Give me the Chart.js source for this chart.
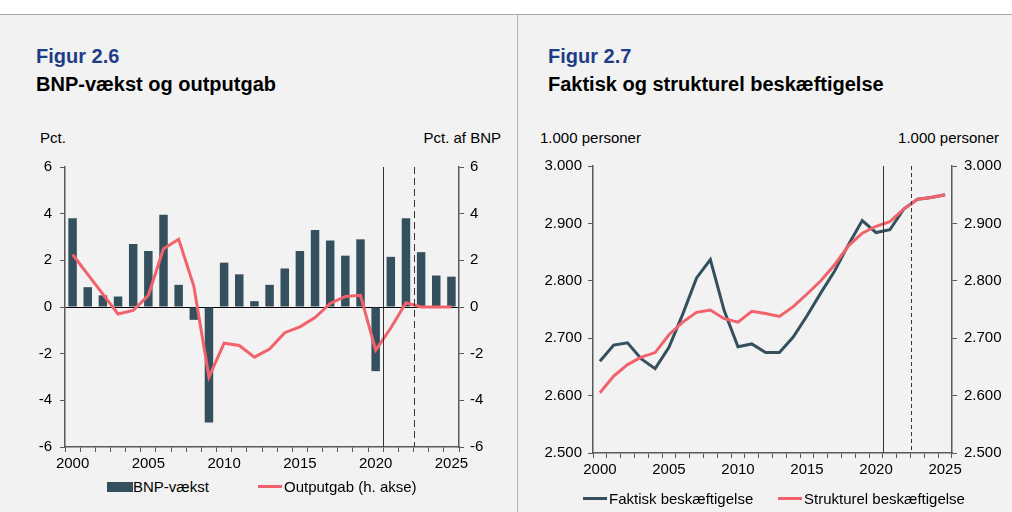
<!DOCTYPE html>
<html>
<head>
<meta charset="utf-8">
<script src="https://cdn.jsdelivr.net/npm/chart.js@4/dist/chart.umd.min.js"></script>
<style>
  body { margin: 0; width: 1012px; height: 512px; background: #f2f2f2; position: relative; overflow: hidden;
         font-family: "Liberation Sans", Arial, sans-serif; }
  .top { position: absolute; left: 0; top: 0; width: 1012px; height: 14px; background: #fff; border-bottom: 1px solid #a6a6a6; }
  .divider { position: absolute; left: 517px; top: 15px; width: 1px; height: 497px; background: #b3b3b3; }
  .txt { position: absolute; white-space: nowrap; color: #000; }
  .fig { font-weight: bold; font-size: 20px; color: #1f3c88; }
  .ttl { font-weight: bold; font-size: 20px; }
  .unit { font-size: 15px; }
  .leg { position: absolute; font-size: 15px; white-space: nowrap; display: flex; align-items: center; }
  .box { display: inline-block; width: 26px; height: 10px; background: #34505f; }
  .ln { display: inline-block; width: 24px; height: 3px; margin-right: 2px; }
  canvas { position: absolute; }
</style>
</head>
<body>
<div class="top"></div>
<div class="divider"></div>

<div class="txt fig" style="left:36px; top:45px;">Figur 2.6</div>
<div class="txt ttl" style="left:36px; top:73px;">BNP-vækst og outputgab</div>
<div class="txt unit" style="left:40px; top:129px;">Pct.</div>
<div class="txt unit" style="right:511px; top:129px;">Pct. af BNP</div>

<div class="txt fig" style="left:548px; top:45px;">Figur 2.7</div>
<div class="txt ttl" style="left:548px; top:73px;">Faktisk og strukturel beskæftigelse</div>
<div class="txt unit" style="left:540px; top:129px;">1.000 personer</div>
<div class="txt unit" style="right:13px; top:129px;">1.000 personer</div>

<canvas id="c1" width="517" height="320" style="left:0; top:150px;"></canvas>
<canvas id="c2" width="495" height="330" style="left:517px; top:150px;"></canvas>

<div class="leg" style="left:107px; top:478px;"><span class="box"></span>BNP-vækst</div>
<div class="leg" style="left:258px; top:478px;"><span class="ln" style="background:#f2626b"></span>Outputgab (h. akse)</div>
<div class="leg" style="left:583px; top:490px;"><span class="ln" style="background:#34505f"></span>Faktisk beskæftigelse</div>
<div class="leg" style="left:778px; top:490px;"><span class="ln" style="background:#f2626b"></span>Strukturel beskæftigelse</div>

<script>
// data
var years = ['2000','2001','2002','2003','2004','2005','2006','2007','2008','2009','2010','2011','2012',
             '2013','2014','2015','2016','2017','2018','2019','2020','2021','2022','2023','2024','2025'];
var bnpVaekst = [3.8, 0.85, 0.5, 0.45, 2.7, 2.4, 3.95, 0.95, -0.55, -4.95, 1.9, 1.4, 0.25,
                 0.95, 1.65, 2.4, 3.3, 2.85, 2.2, 2.9, -2.75, 2.15, 3.8, 2.35, 1.35, 1.3];
var outputgab = [2.25, 1.4, 0.55, -0.3, -0.15, 0.5, 2.5, 2.9, 0.9, -3.0, -1.55, -1.65, -2.15,
                 -1.8, -1.1, -0.85, -0.45, 0.15, 0.45, 0.5, -1.85, -0.9, 0.18, 0.0, 0.0, 0.0];
var faktisk = [2660, 2688, 2692, 2664, 2647, 2684, 2742, 2805, 2837, 2748, 2685, 2690, 2675,
               2675, 2702, 2739, 2779, 2817, 2863, 2905, 2884, 2889, 2925, 2942, 2945, 2950];
var strukturel = [2605, 2634, 2654, 2667, 2675, 2706, 2728, 2745, 2749, 2734, 2728, 2747, 2743,
                  2738, 2755, 2777, 2800, 2828, 2861, 2883, 2895, 2903, 2925, 2942, 2945, 2950];
// last historical year (solid line) and start of projection (dashed line)
var lastActual = '2020';
var lastKnown = '2022';

var dark = '#34505f';
var red = '#f2626b';
var axisCol = '#595959';

Chart.defaults.font = { family: '"Liberation Sans", Arial, sans-serif', size: 15 };
Chart.defaults.color = '#000';

// vertical marker lines between two categories
var markerLines = {
  id: 'markerLines',
  afterDatasetsDraw: function(chart, args, opts) {
    var ctx = chart.ctx, area = chart.chartArea, xs = chart.scales.x;
    ctx.save();
    ctx.strokeStyle = '#333';
    ctx.lineWidth = 1;
    [[lastActual, []], [lastKnown, opts.dash]].forEach(function(m) {
      var x = Math.round(xs.getPixelForValue(years.indexOf(m[0]) + 0.5)) + 0.5;
      ctx.setLineDash(m[1]);
      ctx.beginPath();
      ctx.moveTo(x, area.top);
      ctx.lineTo(x, area.bottom);
      ctx.stroke();
    });
    ctx.restore();
  }
};

function xAxis(pad, h) {
  return {
    offset: true,
    afterFit: function(s) { s.height = h; },
    grid: { offset: true, drawOnChartArea: false, tickLength: 5, color: axisCol },
    border: { color: axisCol, width: 1.5 },
    ticks: { autoSkip: false, maxRotation: 0, padding: pad,
      callback: function(v, i) { return years[i] % 5 === 0 ? years[i] : ''; } }
  };
}

function yAxis(pos, min, max, step, w, pad, fmt) {
  return {
    position: pos, min: min, max: max,
    afterFit: function(s) { s.width = w; },
    grid: { drawOnChartArea: false, tickLength: 5, color: axisCol },
    border: { color: axisCol, width: 1.5 },
    ticks: { stepSize: step, padding: pad, callback: fmt }
  };
}

// Figur 2.6
var yLeft = yAxis('left', -6, 6, 2, 65, 8);
yLeft.grid = { drawOnChartArea: true, tickLength: 5, tickColor: axisCol,
  color: function(c) { return c.tick && c.tick.value === 0 ? '#000' : 'rgba(0,0,0,0)'; } };

new Chart(document.getElementById('c1'), {
  type: 'bar',
  data: {
    labels: years,
    datasets: [
      { label: 'BNP-vækst', data: bnpVaekst, backgroundColor: dark, yAxisID: 'y',
        categoryPercentage: 1, barPercentage: 0.56, order: 2 },
      { type: 'line', label: 'Outputgab (h. akse)', data: outputgab, borderColor: red, borderWidth: 3,
        pointRadius: 0, tension: 0, yAxisID: 'y1', order: 1 }
    ]
  },
  options: {
    responsive: false, animation: false,
    layout: { padding: { top: 13, left: 0, right: 0, bottom: 0 } },
    plugins: { legend: { display: false }, tooltip: { enabled: false }, markerLines: { dash: [7, 4] } },
    scales: {
      x: xAxis(3, 23),
      y: yLeft,
      y1: yAxis('right', -6, 6, 2, 58, 6)
    }
  },
  plugins: [markerLines]
});

// Figur 2.7
var fmtK = function(v) { return (v / 1000).toFixed(3); };

new Chart(document.getElementById('c2'), {
  type: 'line',
  data: {
    labels: years,
    datasets: [
      { label: 'Faktisk beskæftigelse', data: faktisk, borderColor: dark, borderWidth: 3,
        pointRadius: 0, tension: 0, yAxisID: 'y', order: 2 },
      { label: 'Strukturel beskæftigelse', data: strukturel, borderColor: red, borderWidth: 3,
        pointRadius: 0, tension: 0, yAxisID: 'y1', order: 1 }
    ]
  },
  options: {
    responsive: false, animation: false,
    layout: { padding: { top: 14, left: 0, right: 0, bottom: 0 } },
    plugins: { legend: { display: false }, tooltip: { enabled: false }, markerLines: { dash: [4, 3] } },
    scales: {
      x: xAxis(3, 27),
      y: yAxis('left', 2500, 3000, 100, 76, 6, fmtK),
      y1: yAxis('right', 2500, 3000, 100, 60, 7, fmtK)
    }
  },
  plugins: [markerLines]
});
</script>
</body>
</html>
